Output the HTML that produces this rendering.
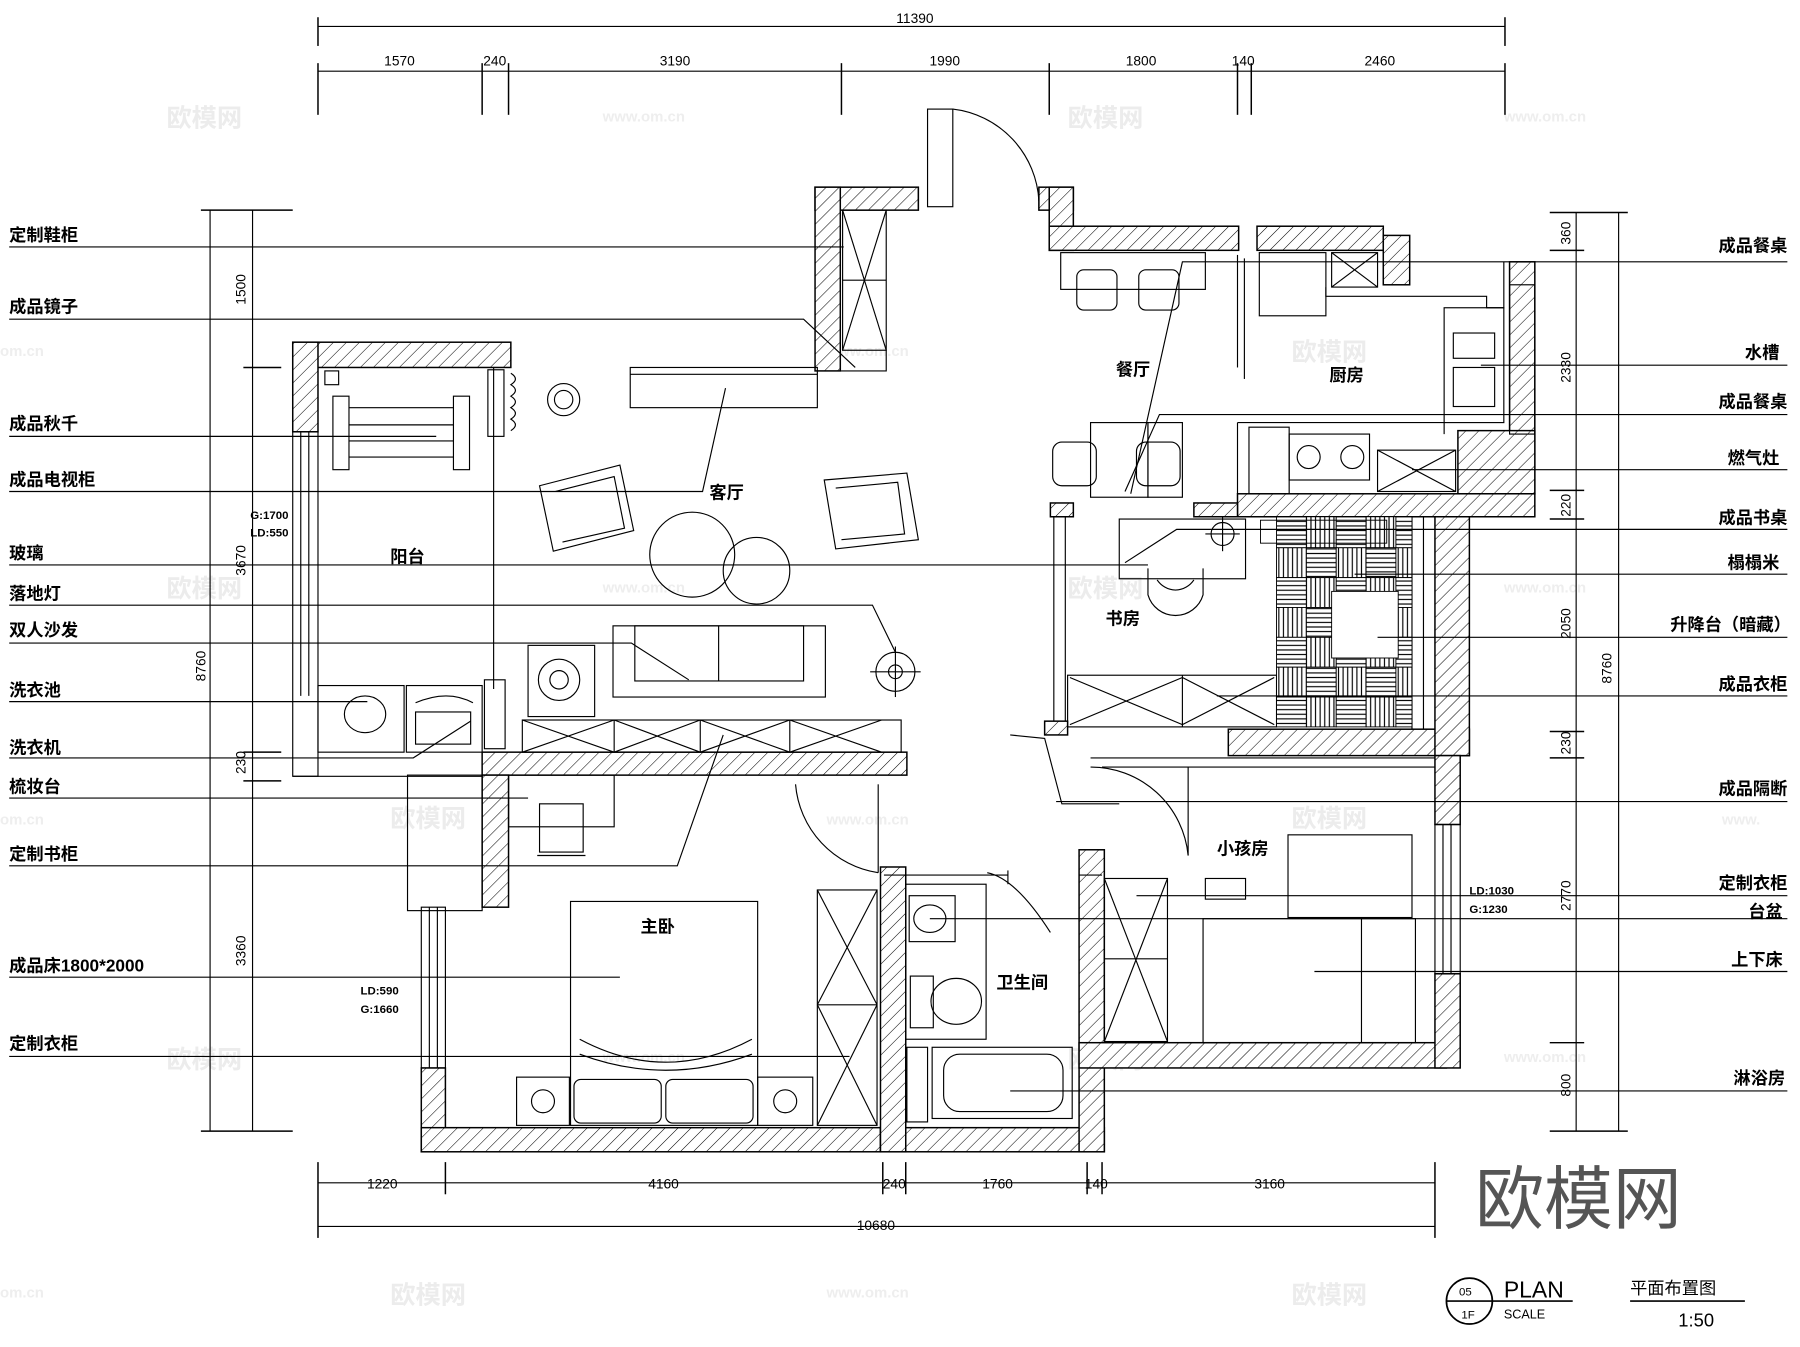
<!DOCTYPE html>
<html><head><meta charset="utf-8"><style>
html,body{margin:0;padding:0;background:#fff;}
svg{display:block;}
text{font-family:"Liberation Sans","Noto Sans CJK SC",sans-serif;fill:#000;}
.l{font-size:15px;font-weight:bold;}
.d{font-size:12px;}
text.wm{fill:#ececec;font-size:22px;font-weight:bold;}
text.wm2{fill:#eeeeee;font-size:13px;font-weight:bold;}
</style></head><body>
<svg width="1800" height="1347" viewBox="0 0 1568 1173" preserveAspectRatio="none" xmlns="http://www.w3.org/2000/svg">
<defs>
<pattern id="h" width="8" height="8" patternUnits="userSpaceOnUse" patternTransform="rotate(45)"><rect width="8" height="8" fill="#fff"/><line x1="0" y1="0" x2="0" y2="8" stroke="#000" stroke-width="0.9"/></pattern>
<pattern id="th" width="4" height="4" patternUnits="userSpaceOnUse"><rect width="4" height="4" fill="#fff"/><line x1="0" y1="2" x2="4" y2="2" stroke="#000" stroke-width="1"/></pattern>
<pattern id="tv" width="4" height="4" patternUnits="userSpaceOnUse"><rect width="4" height="4" fill="#fff"/><line x1="2" y1="0" x2="2" y2="4" stroke="#000" stroke-width="1"/></pattern>
</defs>
<!-- watermarks (behind) -->
<g>
<text class="wm" x="145" y="110">欧模网</text><text class="wm" x="930" y="110">欧模网</text><text class="wm" x="1125" y="314">欧模网</text><text class="wm" x="145" y="520">欧模网</text><text class="wm" x="930" y="520">欧模网</text><text class="wm" x="340" y="720">欧模网</text><text class="wm" x="1125" y="720">欧模网</text><text class="wm" x="145" y="930">欧模网</text><text class="wm" x="930" y="930">欧模网</text><text class="wm" x="340" y="1135">欧模网</text><text class="wm" x="1125" y="1135">欧模网</text>
<text class="wm2" x="525" y="106">www.om.cn</text><text class="wm2" x="1310" y="106">www.om.cn</text><text class="wm2" x="0" y="310">om.cn</text><text class="wm2" x="720" y="310">www.om.cn</text><text class="wm2" x="525" y="516">www.om.cn</text><text class="wm2" x="1310" y="516">www.om.cn</text><text class="wm2" x="0" y="718">om.cn</text><text class="wm2" x="720" y="718">www.om.cn</text><text class="wm2" x="1500" y="718">www.</text><text class="wm2" x="525" y="925">www.om.cn</text><text class="wm2" x="1310" y="925">www.om.cn</text><text class="wm2" x="0" y="1130">om.cn</text><text class="wm2" x="720" y="1130">www.om.cn</text>
</g>
<g stroke="#000" stroke-width="1" fill="none">
<line x1="277" y1="23" x2="1311" y2="23"/>
<line x1="277" y1="62" x2="1311" y2="62"/>
<g stroke-width="1.3">
<line x1="277" y1="15" x2="277" y2="40"/><line x1="1311" y1="15" x2="1311" y2="40"/>
<line x1="277" y1="55" x2="277" y2="100"/><line x1="420" y1="55" x2="420" y2="100"/><line x1="443" y1="55" x2="443" y2="100"/><line x1="733" y1="55" x2="733" y2="100"/><line x1="914" y1="55" x2="914" y2="100"/><line x1="1078" y1="55" x2="1078" y2="100"/><line x1="1090" y1="55" x2="1090" y2="100"/><line x1="1311" y1="55" x2="1311" y2="100"/>
</g>
<line x1="277" y1="1030" x2="1250" y2="1030"/>
<line x1="277" y1="1068" x2="1250" y2="1068"/>
<g stroke-width="1.3">
<line x1="277" y1="1012" x2="277" y2="1078"/><line x1="388" y1="1012" x2="388" y2="1040"/><line x1="769" y1="1012" x2="769" y2="1040"/><line x1="789" y1="1012" x2="789" y2="1040"/><line x1="947" y1="1012" x2="947" y2="1040"/><line x1="960" y1="1012" x2="960" y2="1040"/><line x1="1250" y1="1012" x2="1250" y2="1078"/>
</g>
<line x1="183" y1="183" x2="183" y2="985"/>
<line x1="220" y1="183" x2="220" y2="985"/>
<g stroke-width="1.3">
<line x1="175" y1="183" x2="255" y2="183"/><line x1="175" y1="985" x2="255" y2="985"/>
<line x1="212" y1="320" x2="245" y2="320"/><line x1="212" y1="655" x2="245" y2="655"/><line x1="212" y1="680" x2="245" y2="680"/>
</g>
<line x1="1410" y1="185" x2="1410" y2="985"/>
<line x1="1373" y1="185" x2="1373" y2="985"/>
<g stroke-width="1.3">
<line x1="1350" y1="185" x2="1418" y2="185"/><line x1="1350" y1="985" x2="1418" y2="985"/>
<line x1="1350" y1="218" x2="1380" y2="218"/><line x1="1350" y1="427" x2="1380" y2="427"/><line x1="1350" y1="452" x2="1380" y2="452"/><line x1="1350" y1="637" x2="1380" y2="637"/><line x1="1350" y1="660" x2="1380" y2="660"/><line x1="1350" y1="908" x2="1380" y2="908"/>
</g>
</g>
<g class="d" text-anchor="middle">
<text x="797" y="20">11390</text>
<text x="348" y="57">1570</text><text x="431" y="57">240</text><text x="588" y="57">3190</text><text x="823" y="57">1990</text><text x="994" y="57">1800</text><text x="1083" y="57">140</text><text x="1202" y="57">2460</text>
<text x="333" y="1035">1220</text><text x="578" y="1035">4160</text><text x="779" y="1035">240</text><text x="869" y="1035">1760</text><text x="955" y="1035">140</text><text x="1106" y="1035">3160</text>
<text x="763" y="1071">10680</text>
<text transform="translate(179,580) rotate(-90)">8760</text>
<text transform="translate(214,252) rotate(-90)">1500</text>
<text transform="translate(214,488) rotate(-90)">3670</text>
<text transform="translate(214,664) rotate(-90)">230</text>
<text transform="translate(214,828) rotate(-90)">3360</text>
<text transform="translate(1404,582) rotate(-90)">8760</text>
<text transform="translate(1368,203) rotate(-90)">360</text>
<text transform="translate(1368,320) rotate(-90)">2330</text>
<text transform="translate(1368,440) rotate(-90)">220</text>
<text transform="translate(1368,543) rotate(-90)">2050</text>
<text transform="translate(1368,647) rotate(-90)">230</text>
<text transform="translate(1368,780) rotate(-90)">2770</text>
<text transform="translate(1368,945) rotate(-90)">800</text>
</g>

<g fill="url(#h)" stroke="#000" stroke-width="1.3">
<rect x="710" y="163" width="90" height="20"/>
<rect x="905" y="163" width="30" height="20"/>
<rect x="710" y="163" width="22" height="160"/>
<rect x="914" y="163" width="21" height="55"/>
<rect x="914" y="197" width="165" height="21"/>
<rect x="1095" y="197" width="110" height="21"/>
<rect x="1205" y="205" width="23" height="43"/>
<rect x="1315" y="228" width="22" height="202"/>
<rect x="1270" y="375" width="67" height="55"/>
<rect x="1078" y="430" width="259" height="20"/>
<rect x="255" y="298" width="190" height="22"/>
<rect x="255" y="298" width="22" height="78"/>
<rect x="1070" y="635" width="210" height="23"/>
<rect x="1250" y="450" width="30" height="208"/>
<rect x="420" y="655" width="370" height="20"/>
<rect x="420" y="675" width="23" height="115"/>
<rect x="367" y="930" width="21" height="73"/>
<rect x="367" y="982" width="400" height="21"/>
<rect x="767" y="982" width="195" height="21"/>
<rect x="767" y="755" width="22" height="248"/>
<rect x="940" y="740" width="22" height="263"/>
<rect x="940" y="908" width="320" height="22"/>
<rect x="1250" y="658" width="22" height="60"/>
<rect x="1250" y="848" width="22" height="82"/>
<rect x="915" y="438" width="20" height="12"/>
<rect x="1040" y="438" width="38" height="12"/>
<rect x="910" y="628" width="20" height="12"/>
</g>
<g stroke="#000" fill="none" stroke-width="1">
<rect x="255" y="376" width="22" height="300"/><line x1="262" y1="376" x2="262" y2="606"/><line x1="269" y1="376" x2="269" y2="606"/>
<line x1="255" y1="676" x2="420" y2="676"/>
<rect x="355" y="675" width="65" height="118"/>
<rect x="367" y="790" width="21" height="140"/><line x1="374" y1="790" x2="374" y2="930"/><line x1="381" y1="790" x2="381" y2="930"/>
<rect x="1250" y="718" width="22" height="130"/><line x1="1257" y1="718" x2="1257" y2="848"/><line x1="1264" y1="718" x2="1264" y2="848"/>
<rect x="1315" y="248" width="22" height="130"/>
<line x1="1230" y1="450" x2="1230" y2="635"/><line x1="1240" y1="450" x2="1240" y2="635"/>
<line x1="430" y1="320" x2="430" y2="600"/>
<line x1="918" y1="450" x2="918" y2="628"/><line x1="928" y1="450" x2="928" y2="628"/>
<rect x="808" y="95" width="22" height="85"/>
<path d="M830 95 A85 85 0 0 1 905 175"/>
<line x1="800" y1="163" x2="800" y2="183"/><line x1="905" y1="163" x2="905" y2="183"/>
<rect x="734" y="183" width="38" height="122"/><line x1="734" y1="183" x2="772" y2="305"/><line x1="772" y1="183" x2="734" y2="305"/><line x1="734" y1="244" x2="772" y2="244"/>
<polyline points="732,323 772,323 772,305"/>
<rect x="549" y="320" width="163" height="35"/><line x1="549" y1="326" x2="712" y2="326"/>
<rect x="290" y="345" width="14" height="64"/><rect x="395" y="345" width="14" height="64"/>
<line x1="304" y1="355" x2="395" y2="355"/><line x1="304" y1="370" x2="395" y2="370"/><line x1="304" y1="384" x2="395" y2="384"/><line x1="304" y1="398" x2="395" y2="398"/>
<rect x="283" y="323" width="12" height="12"/>
<circle cx="491" cy="348" r="14"/><circle cx="491" cy="348" r="8"/>
<rect x="425" y="322" width="14" height="58"/><path d="M445 325 q8 5 0 10 q8 5 0 10 q8 5 0 10 q8 5 0 10 q8 5 0 10"/>
<path d="M470 423 L540 405 L552 462 L482 480 Z"/><path d="M484 428 L535 415 L544 460 L490 472"/>
<path d="M718 418 L790 412 L800 470 L728 478 Z"/><path d="M728 425 L782 420 L788 465 L733 470"/>
<circle cx="603" cy="483" r="37"/><circle cx="659" cy="497" r="29"/>
<rect x="534" y="545" width="185" height="62"/><rect x="553" y="545" width="147" height="48"/><line x1="626" y1="545" x2="626" y2="593"/>
<circle cx="780" cy="585" r="17"/><line x1="758" y1="585" x2="802" y2="585"/><line x1="780" y1="563" x2="780" y2="607"/><circle cx="780" cy="585" r="6"/>
<rect x="460" y="562" width="58" height="62"/><circle cx="487" cy="592" r="18"/><circle cx="487" cy="592" r="8"/>
<rect x="455" y="627" width="330" height="28"/><line x1="535" y1="627" x2="535" y2="655"/><line x1="610" y1="627" x2="610" y2="655"/><line x1="688" y1="627" x2="688" y2="655"/>
<line x1="455" y1="627" x2="535" y2="655"/><line x1="535" y1="627" x2="455" y2="655"/><line x1="535" y1="627" x2="610" y2="655"/><line x1="610" y1="627" x2="535" y2="655"/><line x1="610" y1="627" x2="688" y2="655"/><line x1="688" y1="627" x2="610" y2="655"/><line x1="688" y1="627" x2="768" y2="655"/><line x1="768" y1="627" x2="688" y2="655"/>
<rect x="277" y="597" width="75" height="58"/><ellipse cx="318" cy="622" rx="18" ry="16"/>
<rect x="354" y="597" width="66" height="58"/><path d="M362 612 q28 -12 50 0"/><rect x="362" y="620" width="48" height="28"/>
<rect x="422" y="592" width="18" height="60"/>
<rect x="443" y="675" width="92" height="45"/><rect x="470" y="700" width="38" height="42"/><line x1="468" y1="745" x2="510" y2="745"/>
<path d="M693 683 A85 85 0 0 0 765 760"/><line x1="765" y1="683" x2="765" y2="760"/>
<rect x="497" y="785" width="163" height="195"/>
<path d="M505 905 q75 40 150 0 M505 918 q75 28 150 0"/>
<rect x="500" y="940" width="76" height="38" rx="6"/><rect x="580" y="940" width="76" height="38" rx="6"/>
<rect x="450" y="938" width="46" height="42"/><circle cx="473" cy="959" r="10"/>
<rect x="660" y="938" width="48" height="42"/><circle cx="684" cy="959" r="10"/>
<rect x="712" y="775" width="52" height="205"/><line x1="712" y1="875" x2="764" y2="875"/>
<line x1="712" y1="775" x2="764" y2="875"/><line x1="764" y1="775" x2="712" y2="875"/><line x1="712" y1="875" x2="764" y2="980"/><line x1="764" y1="875" x2="712" y2="980"/>
<rect x="789" y="770" width="70" height="135"/>
<rect x="792" y="780" width="40" height="40"/><ellipse cx="810" cy="800" rx="14" ry="12"/>
<rect x="793" y="850" width="20" height="45"/><ellipse cx="833" cy="872" rx="22" ry="20"/>
<rect x="812" y="912" width="122" height="62"/><rect x="822" y="918" width="104" height="50" rx="14"/>
<rect x="790" y="912" width="18" height="65"/>
<path d="M860 760 q25 5 55 52"/><line x1="878" y1="758" x2="878" y2="770"/>
<line x1="770" y1="762" x2="878" y2="762"/><line x1="940" y1="762" x2="960" y2="762"/>
<path d="M950 668 A85 85 0 0 1 1035 745"/><line x1="1035" y1="668" x2="1035" y2="745"/>
<line x1="950" y1="660" x2="1250" y2="660"/><line x1="960" y1="668" x2="1250" y2="668"/>
<polyline points="880,640 910,643 925,700 975,700"/>
<rect x="962" y="765" width="55" height="142"/><line x1="962" y1="765" x2="1017" y2="907"/><line x1="1017" y1="765" x2="962" y2="907"/><line x1="962" y1="835" x2="1017" y2="835"/>
<rect x="1122" y="727" width="108" height="72"/><rect x="1050" y="765" width="35" height="18"/>
<rect x="1048" y="800" width="185" height="108"/><line x1="1186" y1="800" x2="1186" y2="908"/>
<rect x="930" y="588" width="182" height="45"/><line x1="1030" y1="588" x2="1030" y2="633"/>
<line x1="932" y1="590" x2="1030" y2="631"/><line x1="1030" y1="590" x2="932" y2="631"/><line x1="1030" y1="590" x2="1110" y2="631"/><line x1="1110" y1="590" x2="1030" y2="631"/>
<rect x="975" y="452" width="110" height="52"/><circle cx="1065" cy="465" r="10"/><line x1="1050" y1="465" x2="1080" y2="465"/><line x1="1065" y1="450" x2="1065" y2="480"/>
<path d="M1000 495 L1000 518 A25 25 0 0 0 1048 518 L1048 495 M1008 505 A20 22 0 0 0 1040 505"/>
<rect x="950" y="368" width="50" height="65"/><rect x="1000" y="368" width="30" height="65"/>
<rect x="917" y="385" width="38" height="38" rx="8"/><rect x="990" y="385" width="38" height="38" rx="8"/>
<rect x="924" y="220" width="126" height="32"/>
<rect x="938" y="235" width="35" height="35" rx="6"/><rect x="992" y="235" width="35" height="35" rx="6"/>
<rect x="1097" y="220" width="58" height="55"/><rect x="1160" y="220" width="40" height="30"/><line x1="1160" y1="220" x2="1200" y2="250"/><line x1="1200" y1="220" x2="1160" y2="250"/>
<polyline points="1155,250 1155,258 1295,258 1295,268 1310,268 1310,228"/>
<rect x="1258" y="268" width="52" height="100"/><rect x="1266" y="290" width="36" height="22"/><rect x="1266" y="320" width="36" height="34"/>
<polyline points="1078,368 1258,368 1258,378"/>
<rect x="1088" y="372" width="35" height="58"/><rect x="1123" y="378" width="70" height="40"/><circle cx="1140" cy="398" r="10"/><circle cx="1178" cy="398" r="10"/>
<rect x="1200" y="392" width="68" height="36"/><line x1="1200" y1="392" x2="1268" y2="428"/><line x1="1268" y1="392" x2="1200" y2="428"/>
<line x1="1078" y1="222" x2="1078" y2="320"/><line x1="1084" y1="225" x2="1084" y2="330"/>
<line x1="1078" y1="368" x2="1078" y2="430"/>
</g>
<g stroke="#000" stroke-width="0.8">
<rect x="1112" y="450" width="26" height="27" fill="url(#th)"/><rect x="1138" y="450" width="26" height="27" fill="url(#tv)"/><rect x="1164" y="450" width="26" height="27" fill="url(#th)"/><rect x="1190" y="450" width="26" height="27" fill="url(#tv)"/><rect x="1216" y="450" width="14" height="27" fill="url(#th)"/>
<rect x="1112" y="477" width="26" height="26" fill="url(#tv)"/><rect x="1138" y="477" width="26" height="26" fill="url(#th)"/><rect x="1164" y="477" width="26" height="26" fill="url(#tv)"/><rect x="1190" y="477" width="26" height="26" fill="url(#th)"/><rect x="1216" y="477" width="14" height="26" fill="url(#tv)"/>
<rect x="1112" y="503" width="26" height="26" fill="url(#th)"/><rect x="1138" y="503" width="26" height="26" fill="url(#tv)"/><rect x="1164" y="503" width="26" height="26" fill="url(#th)"/><rect x="1190" y="503" width="26" height="26" fill="url(#tv)"/><rect x="1216" y="503" width="14" height="26" fill="url(#th)"/>
<rect x="1112" y="529" width="26" height="26" fill="url(#tv)"/><rect x="1138" y="529" width="26" height="26" fill="url(#th)"/><rect x="1164" y="529" width="26" height="26" fill="url(#tv)"/><rect x="1190" y="529" width="26" height="26" fill="url(#th)"/><rect x="1216" y="529" width="14" height="26" fill="url(#tv)"/>
<rect x="1112" y="555" width="26" height="26" fill="url(#th)"/><rect x="1138" y="555" width="26" height="26" fill="url(#tv)"/><rect x="1164" y="555" width="26" height="26" fill="url(#th)"/><rect x="1190" y="555" width="26" height="26" fill="url(#tv)"/><rect x="1216" y="555" width="14" height="26" fill="url(#th)"/>
<rect x="1112" y="581" width="26" height="26" fill="url(#tv)"/><rect x="1138" y="581" width="26" height="26" fill="url(#th)"/><rect x="1164" y="581" width="26" height="26" fill="url(#tv)"/><rect x="1190" y="581" width="26" height="26" fill="url(#th)"/><rect x="1216" y="581" width="14" height="26" fill="url(#tv)"/>
<rect x="1112" y="607" width="26" height="26" fill="url(#th)"/><rect x="1138" y="607" width="26" height="26" fill="url(#tv)"/><rect x="1164" y="607" width="26" height="26" fill="url(#th)"/><rect x="1190" y="607" width="26" height="26" fill="url(#tv)"/><rect x="1216" y="607" width="14" height="26" fill="url(#th)"/>
<rect x="1160" y="515" width="58" height="58" fill="#fff"/>
<rect x="1098" y="453" width="110" height="20" fill="none"/>
</g>
<g stroke="#000" stroke-width="1" fill="none">
<line x1="8" y1="215" x2="735" y2="215"/>
<polyline points="8,278 700,278 745,320"/>
<line x1="8" y1="380" x2="380" y2="380"/>
<polyline points="8,428 612,428 632,338"/>
<line x1="8" y1="492" x2="1000" y2="492"/>
<polyline points="8,527 760,527 780,568"/>
<polyline points="8,560 550,560 600,592"/>
<line x1="8" y1="611" x2="320" y2="611"/>
<polyline points="8,660 360,660 410,628"/>
<line x1="8" y1="695" x2="460" y2="695"/>
<polyline points="8,754 590,754 630,640"/>
<line x1="8" y1="851" x2="540" y2="851"/>
<line x1="8" y1="920" x2="740" y2="920"/>
<polyline points="1557,228 1030,228 985,430"/>
<line x1="1557" y1="318" x2="1290" y2="318"/>
<polyline points="1557,361 1010,361 980,428"/>
<line x1="1557" y1="409" x2="1230" y2="409"/>
<polyline points="1557,461 1025,461 980,490"/>
<line x1="1557" y1="500" x2="1180" y2="500"/>
<line x1="1557" y1="555" x2="1200" y2="555"/>
<line x1="1557" y1="606" x2="1060" y2="606"/>
<line x1="1557" y1="698" x2="920" y2="698"/>
<line x1="1557" y1="780" x2="990" y2="780"/>
<line x1="1557" y1="800" x2="810" y2="800"/>
<line x1="1557" y1="846" x2="1145" y2="846"/>
<line x1="1557" y1="950" x2="880" y2="950"/>
</g>
<g class="l">
<text x="8" y="210">定制鞋柜</text><text x="8" y="272">成品镜子</text><text x="8" y="374">成品秋千</text><text x="8" y="423">成品电视柜</text><text x="8" y="487">玻璃</text><text x="8" y="522">落地灯</text><text x="8" y="554">双人沙发</text><text x="8" y="606">洗衣池</text><text x="8" y="656">洗衣机</text><text x="8" y="690">梳妆台</text><text x="8" y="749">定制书柜</text><text x="8" y="846">成品床1800*2000</text><text x="8" y="914">定制衣柜</text>
</g>
<g class="l" text-anchor="end">
<text x="1557" y="219">成品餐桌</text><text x="1550" y="312">水槽</text><text x="1557" y="355">成品餐桌</text><text x="1550" y="404">燃气灶</text><text x="1557" y="456">成品书桌</text><text x="1550" y="495">榻榻米</text><text x="1560" y="549">升降台（暗藏）</text><text x="1557" y="601">成品衣柜</text><text x="1557" y="692">成品隔断</text><text x="1557" y="774">定制衣柜</text><text x="1553" y="799">台盆</text><text x="1553" y="841">上下床</text><text x="1555" y="944">淋浴房</text>
</g>
<g class="l">
<text x="972" y="327">餐厅</text><text x="1158" y="332">厨房</text><text x="618" y="434">客厅</text><text x="340" y="490">阳台</text><text x="963" y="544">书房</text><text x="1060" y="744">小孩房</text><text x="558" y="812">主卧</text><text x="868" y="861">卫生间</text>
</g>
<g style="font-size:10px;font-weight:bold">
<text x="218" y="452">G:1700</text><text x="218" y="467">LD:550</text>
<text x="314" y="866">LD:590</text><text x="314" y="882">G:1660</text>
<text x="1280" y="779">LD:1030</text><text x="1280" y="795">G:1230</text>
</g>
<text x="1285" y="1065" style="font-size:60px;fill:#555;">欧模网</text>
<g stroke="#000" fill="none" stroke-width="1.5">
<circle cx="1280" cy="1133" r="20"/><line x1="1260" y1="1133" x2="1300" y2="1133"/>
<line x1="1300" y1="1133" x2="1370" y2="1133"/><line x1="1420" y1="1133" x2="1520" y2="1133"/>
</g>
<text x="1271" y="1128" style="font-size:10px">05</text><text x="1273" y="1148" style="font-size:10px">1F</text>
<text x="1310" y="1130" style="font-size:20px">PLAN</text><text x="1310" y="1148" style="font-size:11px">SCALE</text>
<text x="1420" y="1127" style="font-size:15px">平面布置图</text><text x="1462" y="1155" style="font-size:16px">1:50</text>
</svg>
</body></html>
